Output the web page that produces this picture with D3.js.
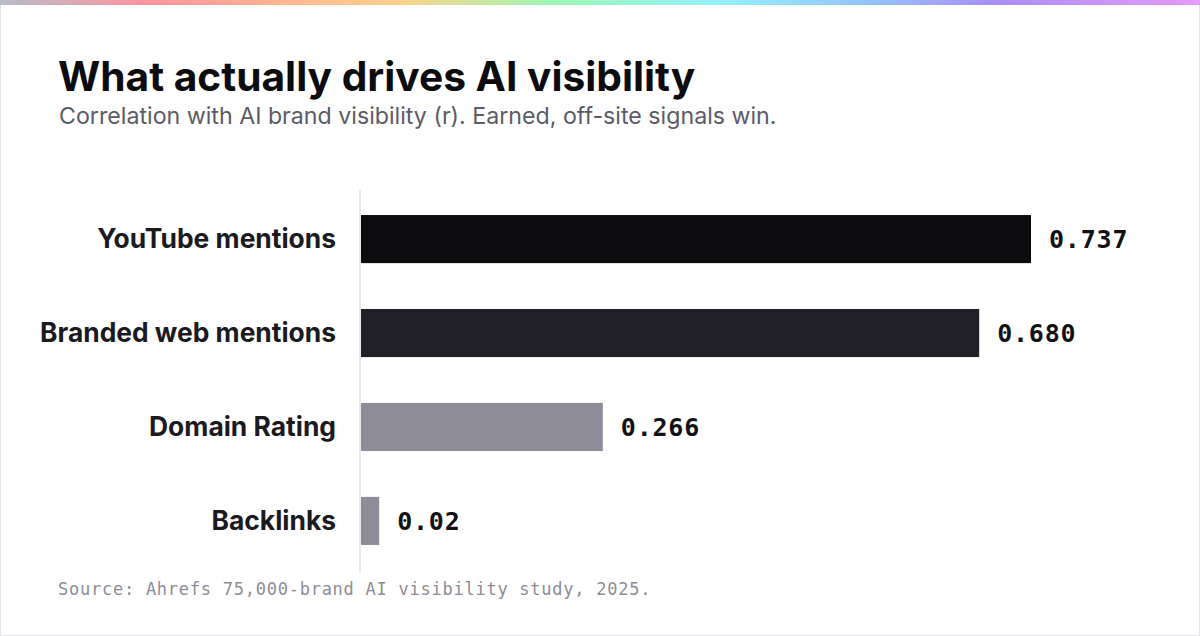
<!DOCTYPE html>
<html>
<head>
<meta charset="utf-8">
<script src="https://cdn.jsdelivr.net/npm/d3@7"></script>
<style>
  html, body { margin: 0; padding: 0; background: #fff; }
  svg { display: block; }
</style>
</head>
<body>
<script>
const categories = ["YouTube mentions", "Branded web mentions", "Domain Rating", "Backlinks"];
const values = [0.737, 0.680, 0.266, 0.02];
const valueLabels = ["0.737", "0.680", "0.266", "0.02"];
const barColors = ["#0c0c0e", "#202026", "#8e8c98", "#8e8c98"];

const W = 1200, H = 636;
const svg = d3.select("body").append("svg")
  .attr("width", W)
  .attr("height", H);

// rainbow strip on top
const defs = svg.append("defs");
const grad = defs.append("linearGradient").attr("id", "topgrad")
  .attr("x1", "0%").attr("x2", "100%");
const stops = [
  [0, "#b8bcc8"], [0.12, "#ff94a0"], [0.33, "#ffd08a"], [0.46, "#9ef8b4"],
  [0.6, "#94f0fc"], [0.72, "#94c4fa"], [0.83, "#a98ef8"], [1, "#e89af8"]
];
grad.selectAll("stop").data(stops).enter().append("stop")
  .attr("offset", d => d[0]).attr("stop-color", d => d[1]);

// frame
svg.append("rect")
  .attr("x", 0.5).attr("y", 0.5)
  .attr("width", W - 1).attr("height", H - 1)
  .attr("fill", "#fff")
  .attr("stroke", "#e2e2e6");
svg.append("rect")
  .attr("x", 0).attr("y", 0)
  .attr("width", W).attr("height", 5)
  .attr("fill", "url(#topgrad)");

// titles
svg.append("text")
  .attr("x", 58).attr("y", 91)
  .style("font-family", "Inter, sans-serif")
  .style("font-weight", "700")
  .style("font-size", "40.7px")
  .style("fill", "#0c0c0e")
  .text("What actually drives AI visibility");

svg.append("text")
  .attr("x", 59).attr("y", 124)
  .style("font-family", "Inter, sans-serif")
  .style("font-size", "23.2px")
  .style("fill", "#5b5b66")
  .text("Correlation with AI brand visibility (r). Earned, off-site signals win.");

// scales
const x0 = 361;
const x = d3.scaleLinear()
  .domain([0, 0.737])
  .range([x0, 1031]);

const y = d3.scaleBand()
  .domain(categories)
  .range([189, 571])
  .paddingInner(0.488)
  .paddingOuter(0.277);

// axis line
svg.append("line")
  .attr("x1", 360).attr("x2", 360)
  .attr("y1", 190).attr("y2", 572)
  .attr("stroke", "#e8e8ec")
  .attr("stroke-width", 2);

// bars
svg.selectAll("rect.bar")
  .data(values)
  .enter()
  .append("rect")
  .attr("class", "bar")
  .attr("x", x0)
  .attr("y", (d, i) => y(categories[i]))
  .attr("width", d => x(d) - x0)
  .attr("height", y.bandwidth())
  .attr("fill", (d, i) => barColors[i]);

// category labels
svg.selectAll("text.cat")
  .data(categories)
  .enter()
  .append("text")
  .attr("class", "cat")
  .attr("x", 336)
  .attr("y", d => y(d) + y.bandwidth() / 2)
  .attr("dy", "0.33em")
  .attr("text-anchor", "end")
  .style("font-family", "Inter, sans-serif")
  .style("font-weight", "700")
  .style("font-size", "26.4px")
  .style("fill", "#1a1a1f")
  .text(d => d);

// value labels
svg.selectAll("text.val")
  .data(values)
  .enter()
  .append("text")
  .attr("class", "val")
  .attr("x", d => x(d) + 18)
  .attr("y", (d, i) => y(categories[i]) + y.bandwidth() / 2)
  .attr("dy", "0.35em")
  .style("font-family", "'DejaVu Sans Mono', monospace")
  .style("font-weight", "700")
  .style("font-size", "25px")
  .style("letter-spacing", "0.8px")
  .style("fill", "#111114")
  .text((d, i) => valueLabels[i]);

// source
svg.append("text")
  .attr("x", 58).attr("y", 595)
  .style("font-family", "'DejaVu Sans Mono', monospace")
  .style("font-size", "17px")
  .style("letter-spacing", "0.75px")
  .style("fill", "#8c8c96")
  .text("Source: Ahrefs 75,000-brand AI visibility study, 2025.");
</script>
</body>
</html>
